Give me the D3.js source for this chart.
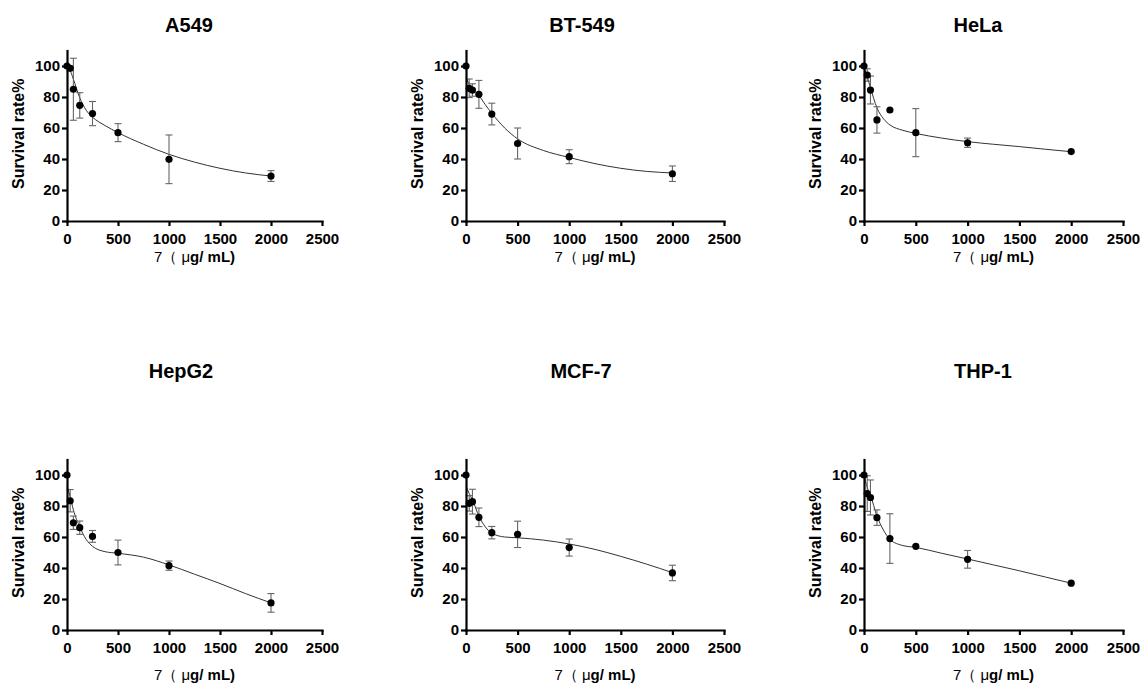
<!DOCTYPE html>
<html>
<head>
<meta charset="utf-8">
<script src="https://cdn.jsdelivr.net/npm/d3@7"></script>
<style>
  body { margin: 0; background: #fff; }
  text { font-family: "Liberation Sans", Arial, sans-serif; fill: #000; }
  .tick text { font-size: 15px; font-weight: bold; font-family: "Liberation Sans", Arial, sans-serif; }
</style>
</head>
<body>
<svg id="chart" width="1143" height="686"></svg>
<script>
// doses (µg/mL) used in every panel
const doses = [0, 31.25, 62.5, 125, 250, 500, 1000, 2000];
const cellLines = ["A549", "BT-549", "HeLa", "HepG2", "MCF-7", "THP-1"];

// mean survival rate (%) and error (±) per cell line
const survA549 = [100, 98.5, 85, 74.6, 69.3, 57, 39.8, 29];
const errA549 = [0, 1.5, 20, 8.2, 7.8, 5.8, 15.7, 3.5];
const survBT549 = [100, 85.6, 84.5, 81.7, 69, 50, 41.5, 30.5];
const errBT549 = [0, 6, 4, 9, 7, 10, 4.5, 5];
const survHeLa = [100, 94.2, 84.5, 65.2, 71.6, 57, 50.5, 44.8];
const errHeLa = [0, 4, 9, 8.5, 0, 15.5, 3, 0];
const survHepG2 = [100, 83.4, 69.2, 66, 60.4, 50, 41.5, 17.5];
const errHepG2 = [0, 7.2, 4.3, 4.3, 3.8, 8, 3, 6];
const survMCF7 = [100, 81.7, 82.8, 72.7, 62.8, 61.7, 53.2, 36.8];
const errMCF7 = [0, 5, 8, 6, 4, 8.5, 5.5, 5];
const survTHP1 = [100, 88, 85.5, 72.5, 59, 54, 45.6, 30.2];
const errTHP1 = [0, 11.5, 11.3, 5, 16, 0, 5.7, 0];

// fitted curves
const fitDoses = [0, 31.25, 62.5, 125, 187.5, 250, 375, 500, 750, 1000, 1250, 1500, 1750, 2000];
const fitA549 = [100, 97, 91.5, 79.5, 71.5, 67, 61.5, 57, 49.5, 43, 38, 34, 31, 29];
const fitBT549 = [93, 88, 85, 81, 75, 69.5, 60, 53, 45.5, 41, 37, 34, 32, 31];
const fitHeLa = [99, 93, 86, 73, 66, 62, 58.5, 56.5, 53.5, 51.2, 49.5, 48, 46.3, 44.7];
const fitHepG2 = [93, 86, 77.5, 66.5, 58.5, 54, 50.5, 49.5, 47, 42, 36, 30, 23.5, 17.5];
const fitMCF7 = [93, 88, 84, 73.5, 66.5, 62.5, 60, 59.5, 58, 55.5, 52, 47.5, 42.5, 37];
const fitTHP1 = [100, 92, 87, 73.5, 64.5, 58.5, 54.5, 53.3, 49.5, 45.8, 42, 38.2, 34.2, 30.2];

const xTicks = [0, 500, 1000, 1500, 2000, 2500];
const yTicks = [0, 20, 40, 60, 80, 100];

const survival = [survA549, survBT549, survHeLa, survHepG2, survMCF7, survTHP1];
const errors = [errA549, errBT549, errHeLa, errHepG2, errMCF7, errTHP1];
const fits = [fitA549, fitBT549, fitHeLa, fitHepG2, fitMCF7, fitTHP1];

const svg = d3.select("#chart");

// panel geometry
const cols = [{ left: 67, width: 255, title: 189 }, { left: 466, width: 258, title: 582 }, { left: 864, width: 259, title: 978 }];
const rows = [{ base: 221, titleY: 32, labelY: 41 }, { base: 630, titleY: 378, labelY: 50 }];
const bottomTitles = [181, 581, 983];
const plotH = 155 * 1.1; // 0..110

cellLines.forEach(function (name, i) {
    const c = cols[i % 3];
    const r = rows[Math.floor(i / 3)];

    const x = d3.scaleLinear().domain([0, 2500]).range([c.left, c.left + c.width]);
    const y = d3.scaleLinear().domain([0, 110]).range([r.base, r.base - plotH]);

    const g = svg.append("g");

    // fitted curve
    const line = d3.line()
        .x(function (d, k) { return x(fitDoses[k]); })
        .y(function (d) { return y(d); })
        .curve(d3.curveMonotoneX);
    g.append("path")
        .datum(fits[i])
        .attr("d", line)
        .attr("fill", "none")
        .attr("stroke", "#333")
        .attr("stroke-width", 1);

    // error bars
    const pts = doses.map(function (d, k) { return { dose: d, v: survival[i][k], e: errors[i][k] }; });
    const eb = g.selectAll(".eb").data(pts.filter(function (p) { return p.e > 0; }))
        .enter().append("g")
        .attr("stroke", "#666")
        .attr("stroke-width", 1.1);
    eb.append("line")
        .attr("x1", function (p) { return x(p.dose); })
        .attr("x2", function (p) { return x(p.dose); })
        .attr("y1", function (p) { return y(p.v + p.e); })
        .attr("y2", function (p) { return y(p.v - p.e); });
    [1, -1].forEach(function (s) {
        eb.append("line")
            .attr("x1", function (p) { return x(p.dose) - 3.5; })
            .attr("x2", function (p) { return x(p.dose) + 3.5; })
            .attr("y1", function (p) { return y(p.v + s * p.e); })
            .attr("y2", function (p) { return y(p.v + s * p.e); });
    });

    // points
    g.selectAll(".pt").data(pts).enter().append("circle")
        .attr("cx", function (p) { return x(p.dose); })
        .attr("cy", function (p) { return y(p.v); })
        .attr("r", 3.6)
        .attr("fill", "#000");

    // axes
    const xAxis = g.append("g")
        .attr("transform", "translate(0," + r.base + ")")
        .call(d3.axisBottom(x).tickValues(xTicks).tickFormat(d3.format("d"))
            .tickSize(5).tickSizeOuter(0).tickPadding(7));
    const yAxis = g.append("g")
        .attr("transform", "translate(" + c.left + ",0)")
        .call(d3.axisLeft(y).tickValues(yTicks).tickFormat(d3.format("d"))
            .tickSize(5).tickSizeOuter(0).tickPadding(2));
    [xAxis, yAxis].forEach(function (a) {
        a.attr("font-size", 15).attr("font-weight", "bold").attr("font-family", null);
        a.selectAll("path, line").attr("stroke", "#000").attr("stroke-width", 2.2);
        a.select(".domain").attr("stroke-linecap", "square");
        a.selectAll("text").attr("fill", "#000");
    });

    // title
    g.append("text")
        .attr("x", i < 3 ? c.title : bottomTitles[i - 3])
        .attr("y", r.titleY)
        .attr("text-anchor", "middle")
        .style("font-size", "20px")
        .style("font-weight", "bold")
        .text(name);

    // y label
    g.append("text")
        .attr("transform", "translate(" + (c.left - 49) + "," + (r.base - plotH / 2 - 2) + ") rotate(-90)")
        .attr("text-anchor", "middle")
        .attr("dy", "0.36em")
        .style("font-size", "16px")
        .style("font-weight", "bold")
        .text("Survival rate%");

    // x label
    const xl = g.append("text")
        .attr("x", c.left + c.width / 2)
        .attr("y", r.base + r.labelY)
        .attr("text-anchor", "middle")
        .style("font-size", "15px");
    xl.append("tspan").text("7（ μ");
    xl.append("tspan").style("font-weight", "bold").text("g/ mL)");
});
</script>
</body>
</html>
